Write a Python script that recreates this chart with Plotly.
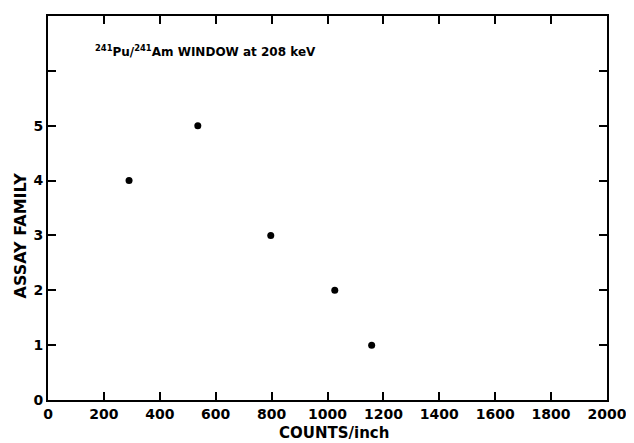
import plotly.graph_objects as go

counts_per_inch = [290, 536, 797, 1026, 1158]
assay_family = [4, 5, 3, 2, 1]

x_tick_vals = [0, 200, 400, 600, 800, 1000, 1200, 1400, 1600, 1800, 2000]
x_tick_text = ["0", "200", "400", "600", "800", "1000", "1200", "1400", "1600", "1800", "2000"]
y_tick_vals = [0, 1, 2, 3, 4, 5, 6]
y_tick_text = ["0", "1", "2", "3", "4", "5", ""]

font_family = "DejaVu Sans, Arial, sans-serif"

fig = go.Figure()
fig.add_trace(go.Scatter(
    x=counts_per_inch, y=assay_family, mode="markers",
    marker=dict(color="black", size=7, symbol="circle"),
    showlegend=False, hoverinfo="x+y",
))

axis_common = dict(
    showline=True, linecolor="black", linewidth=2,
    mirror="allticks", ticks="inside", ticklen=8, tickwidth=2, tickcolor="black",
    showgrid=False, zeroline=False,
    tickfont=dict(family=font_family, size=14, color="black", weight="bold"),
)

fig.update_xaxes(range=[0, 2000], tickvals=x_tick_vals, ticktext=x_tick_text,
                 ticklabelstandoff=0, **axis_common)
fig.update_yaxes(range=[0, 7], tickvals=y_tick_vals, ticktext=y_tick_text,
                 ticklabelstandoff=0, **axis_common)

fig.add_annotation(
    text="<sup>241</sup>Pu/<sup>241</sup>Am WINDOW at 208 keV",
    xref="paper", yref="paper", x=0.08, y=0.91, xanchor="left", yanchor="middle",
    showarrow=False, font=dict(family=font_family, size=12, color="black", weight="bold"),
)
fig.add_annotation(
    text="COUNTS/inch", xref="paper", yref="paper", x=0.511, y=-0.056,
    xanchor="center", yanchor="top", showarrow=False,
    font=dict(family=font_family, size=15, color="black", weight="bold"),
)
fig.add_annotation(
    text="ASSAY FAMILY", xref="paper", yref="paper", x=-0.028, y=0.428,
    xanchor="right", yanchor="middle", textangle=-90, showarrow=False,
    font=dict(family=font_family, size=16, color="black", weight="bold"),
)

fig.update_layout(
    width=634, height=443,
    margin=dict(l=40, r=35, t=6, b=51),
    paper_bgcolor="white", plot_bgcolor="white",
)

fig.write_html("out.html")
